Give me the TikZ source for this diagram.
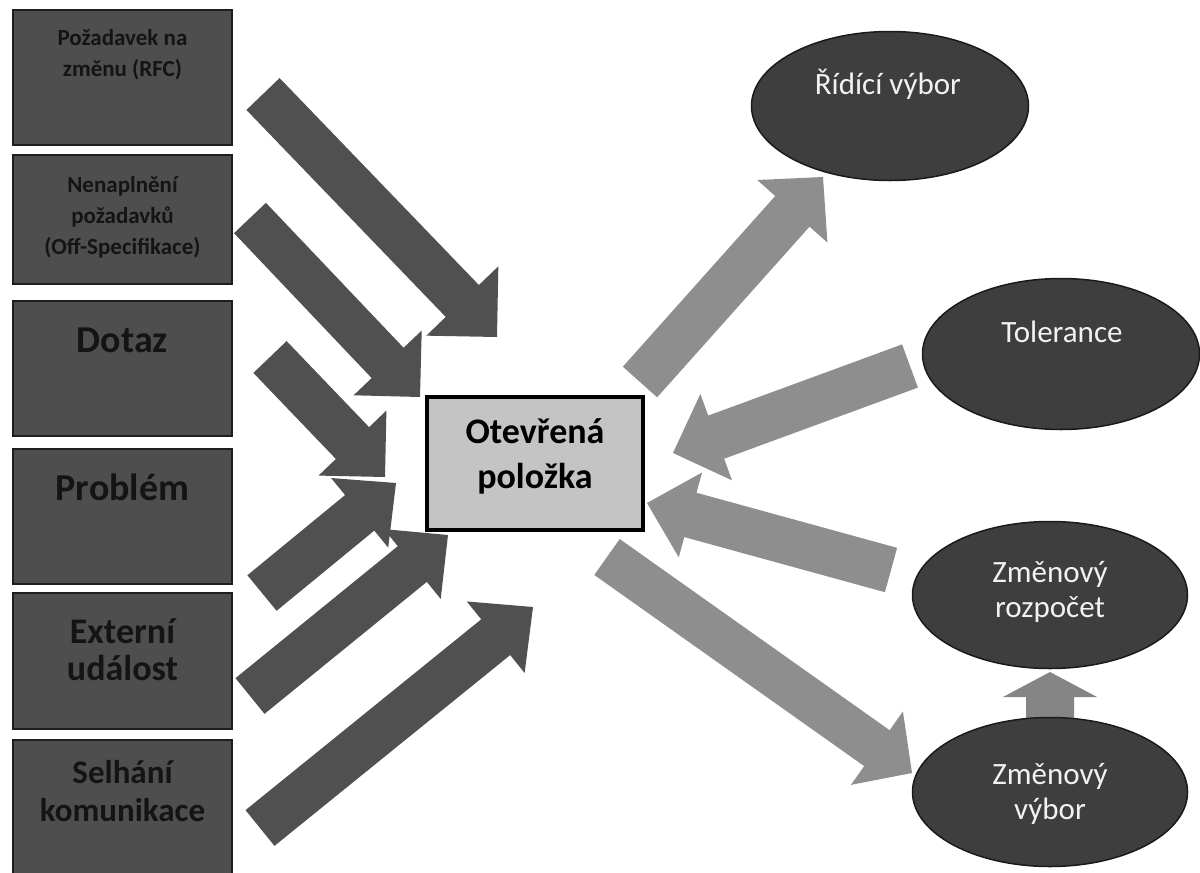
\documentclass[tikz,border=0pt]{standalone}
\usepackage{fontspec}
\setmainfont{Carlito}
\usetikzlibrary{calc,shapes.geometric}

\definecolor{boxgray}{HTML}{4E4E4E}
\definecolor{boxedge}{HTML}{1E1E1E}
\definecolor{boxtext}{HTML}{141414}
\definecolor{darkarrow}{HTML}{505050}
\definecolor{lightarrow}{HTML}{8E8E8E}
\definecolor{midarrow}{HTML}{858585}
\definecolor{ovalfill}{HTML}{3E3E3E}
\definecolor{ovaledge}{HTML}{1A1A1A}
\definecolor{ovaltext}{HTML}{F2F2F2}
\definecolor{centerfill}{HTML}{C4C4C4}

% block arrow: #1 fill colour, #2 tail coordinate, #3 tip coordinate,
% #4 half shaft width, #5 half head width, #6 head length
\newcommand\blockarrow[6]{%
  \coordinate (ba-h) at ($(#3)!#6!(#2)$);
  \fill[#1] ($(#2)!#4!90:(#3)$) -- ($(ba-h)!#4!90:(#3)$) -- ($(ba-h)!#5!90:(#3)$)
    -- (#3) -- ($(ba-h)!#5!-90:(#3)$) -- ($(ba-h)!#4!-90:(#3)$)
    -- ($(#2)!#4!-90:(#3)$) -- cycle;
}

\begin{document}
\begin{tikzpicture}[x=1pt,y=-1pt,
  srcbox/.style={draw=boxedge, line width=1.5pt, fill=boxgray,
    minimum width=219pt, inner sep=0pt},
  srctxt/.style={text=boxtext, align=center, inner sep=0pt},
  oval/.style={ellipse, draw=ovaledge, line width=1.5pt, fill=ovalfill, inner sep=0pt},
  ovaltxt/.style={text=ovaltext, align=center, font=\fontsize{31}{35}\selectfont},
  hub/.style={draw=black, line width=4pt, fill=centerfill,
    minimum width=216pt, minimum height=133pt, inner sep=0pt},
  hubtxt/.style={text=black, align=center, font=\bfseries\fontsize{36}{45}\selectfont}]

\useasboundingbox (0,0) rectangle (1200,873);
\fill[white] (0,0) rectangle (1200,873);

% source boxes on the left
\node[srcbox, minimum height=135pt] (b1) at (122.5,77.5) {};
\node[srcbox, minimum height=129pt] (b2) at (122.5,219.5) {};
\node[srcbox, minimum height=135pt] (b3) at (122.5,368.5) {};
\node[srcbox, minimum height=135pt] (b4) at (122.5,516.5) {};
\node[srcbox, minimum height=136pt] (b5) at (122.5,661) {};
\node[srcbox, minimum height=140pt] (b6) at (122.5,810) {};

\node[srctxt, font=\bfseries\fontsize{23}{31}\selectfont] (t1) at (122.5,55)
  {Požadavek na\\změnu (RFC)};
\node[srctxt, font=\bfseries\fontsize{23}{31}\selectfont] (t2) at (122.5,217)
  {Nenaplnění\\požadavků\\(Off-Specifikace)};
\node[srctxt, font=\bfseries\fontsize{38}{40}\selectfont] (t3) at (122.5,340) {Dotaz};
\node[srctxt, font=\bfseries\fontsize{38}{40}\selectfont] (t4) at (122.5,487) {Problém};
\node[srctxt, font=\bfseries\fontsize{36}{37}\selectfont] (t5) at (122.5,650)
  {Externí\\událost};
\node[srctxt, font=\bfseries\fontsize{33}{38}\selectfont] (t6) at (122.5,791)
  {Selhání\\komunikace};

% central item
\node[hub] (hub) at (535,463) {};
\node[hubtxt] (hubt) at (535,456) {Otevřená\\položka};

% ovals on the right
\node[oval, minimum width=277pt, minimum height=149pt] (ridici) at (890,106) {};
\node[ovaltxt] (ridicit) at (888,84) {Řídící výbor};
\node[oval, minimum width=277pt, minimum height=151pt] (tol) at (1061,354) {};
\node[ovaltxt] (tolt) at (1062,332) {Tolerance};
\node[oval, minimum width=275pt, minimum height=147pt] (rozp) at (1050,595) {};
\node[ovaltxt] (rozpt) at (1050,592) {Změnový\\rozpočet};

% small arrow between the two lower ovals (its foot sits behind the lower oval)
\coordinate (u-s) at (1050,730);
\coordinate (u-e) at (1050,672);
\blockarrow{midarrow}{u-s}{u-e}{24pt}{47pt}{25pt}

\node[oval, minimum width=275pt, minimum height=149pt] (vybor) at (1050,792) {};
\node[ovaltxt] (vybort) at (1050,794) {Změnový\\výbor};

% incoming dark arrows
\coordinate (a1s) at (263,94);  \coordinate (a1e) at (497,337);
\coordinate (a2s) at (250,218); \coordinate (a2e) at (420,397);
\coordinate (a3s) at (270,357); \coordinate (a3e) at (385,477);
\coordinate (a4s) at (262,593); \coordinate (a4e) at (396,483);
\coordinate (a5s) at (250,696); \coordinate (a5e) at (448,535);
\coordinate (a6s) at (260,828); \coordinate (a6e) at (533,607);
\blockarrow{darkarrow}{a1s}{a1e}{23pt}{50pt}{50pt}
\blockarrow{darkarrow}{a2s}{a2e}{22pt}{47pt}{47pt}
\blockarrow{darkarrow}{a3s}{a3e}{23pt}{47pt}{47pt}
\blockarrow{darkarrow}{a5s}{a5e}{23pt}{45pt}{46pt}
\blockarrow{darkarrow}{a4s}{a4e}{23pt}{45pt}{47pt}
\blockarrow{darkarrow}{a6s}{a6e}{23pt}{46pt}{48pt}

% light arrows on the right
\coordinate (r1s) at (640,382); \coordinate (r1e) at (823,177);
\coordinate (r2s) at (910,366); \coordinate (r2e) at (673,453);
\coordinate (r3s) at (891,570); \coordinate (r3e) at (647,503);
\coordinate (r4s) at (607,557); \coordinate (r4e) at (912,773);
\blockarrow{lightarrow}{r1s}{r1e}{23pt}{47pt}{46pt}
\blockarrow{lightarrow}{r2s}{r2e}{23pt}{46pt}{46pt}
\blockarrow{lightarrow}{r3s}{r3e}{23pt}{44pt}{45pt}
\blockarrow{lightarrow}{r4s}{r4e}{22pt}{45pt}{43pt}

\end{tikzpicture}
\end{document}
